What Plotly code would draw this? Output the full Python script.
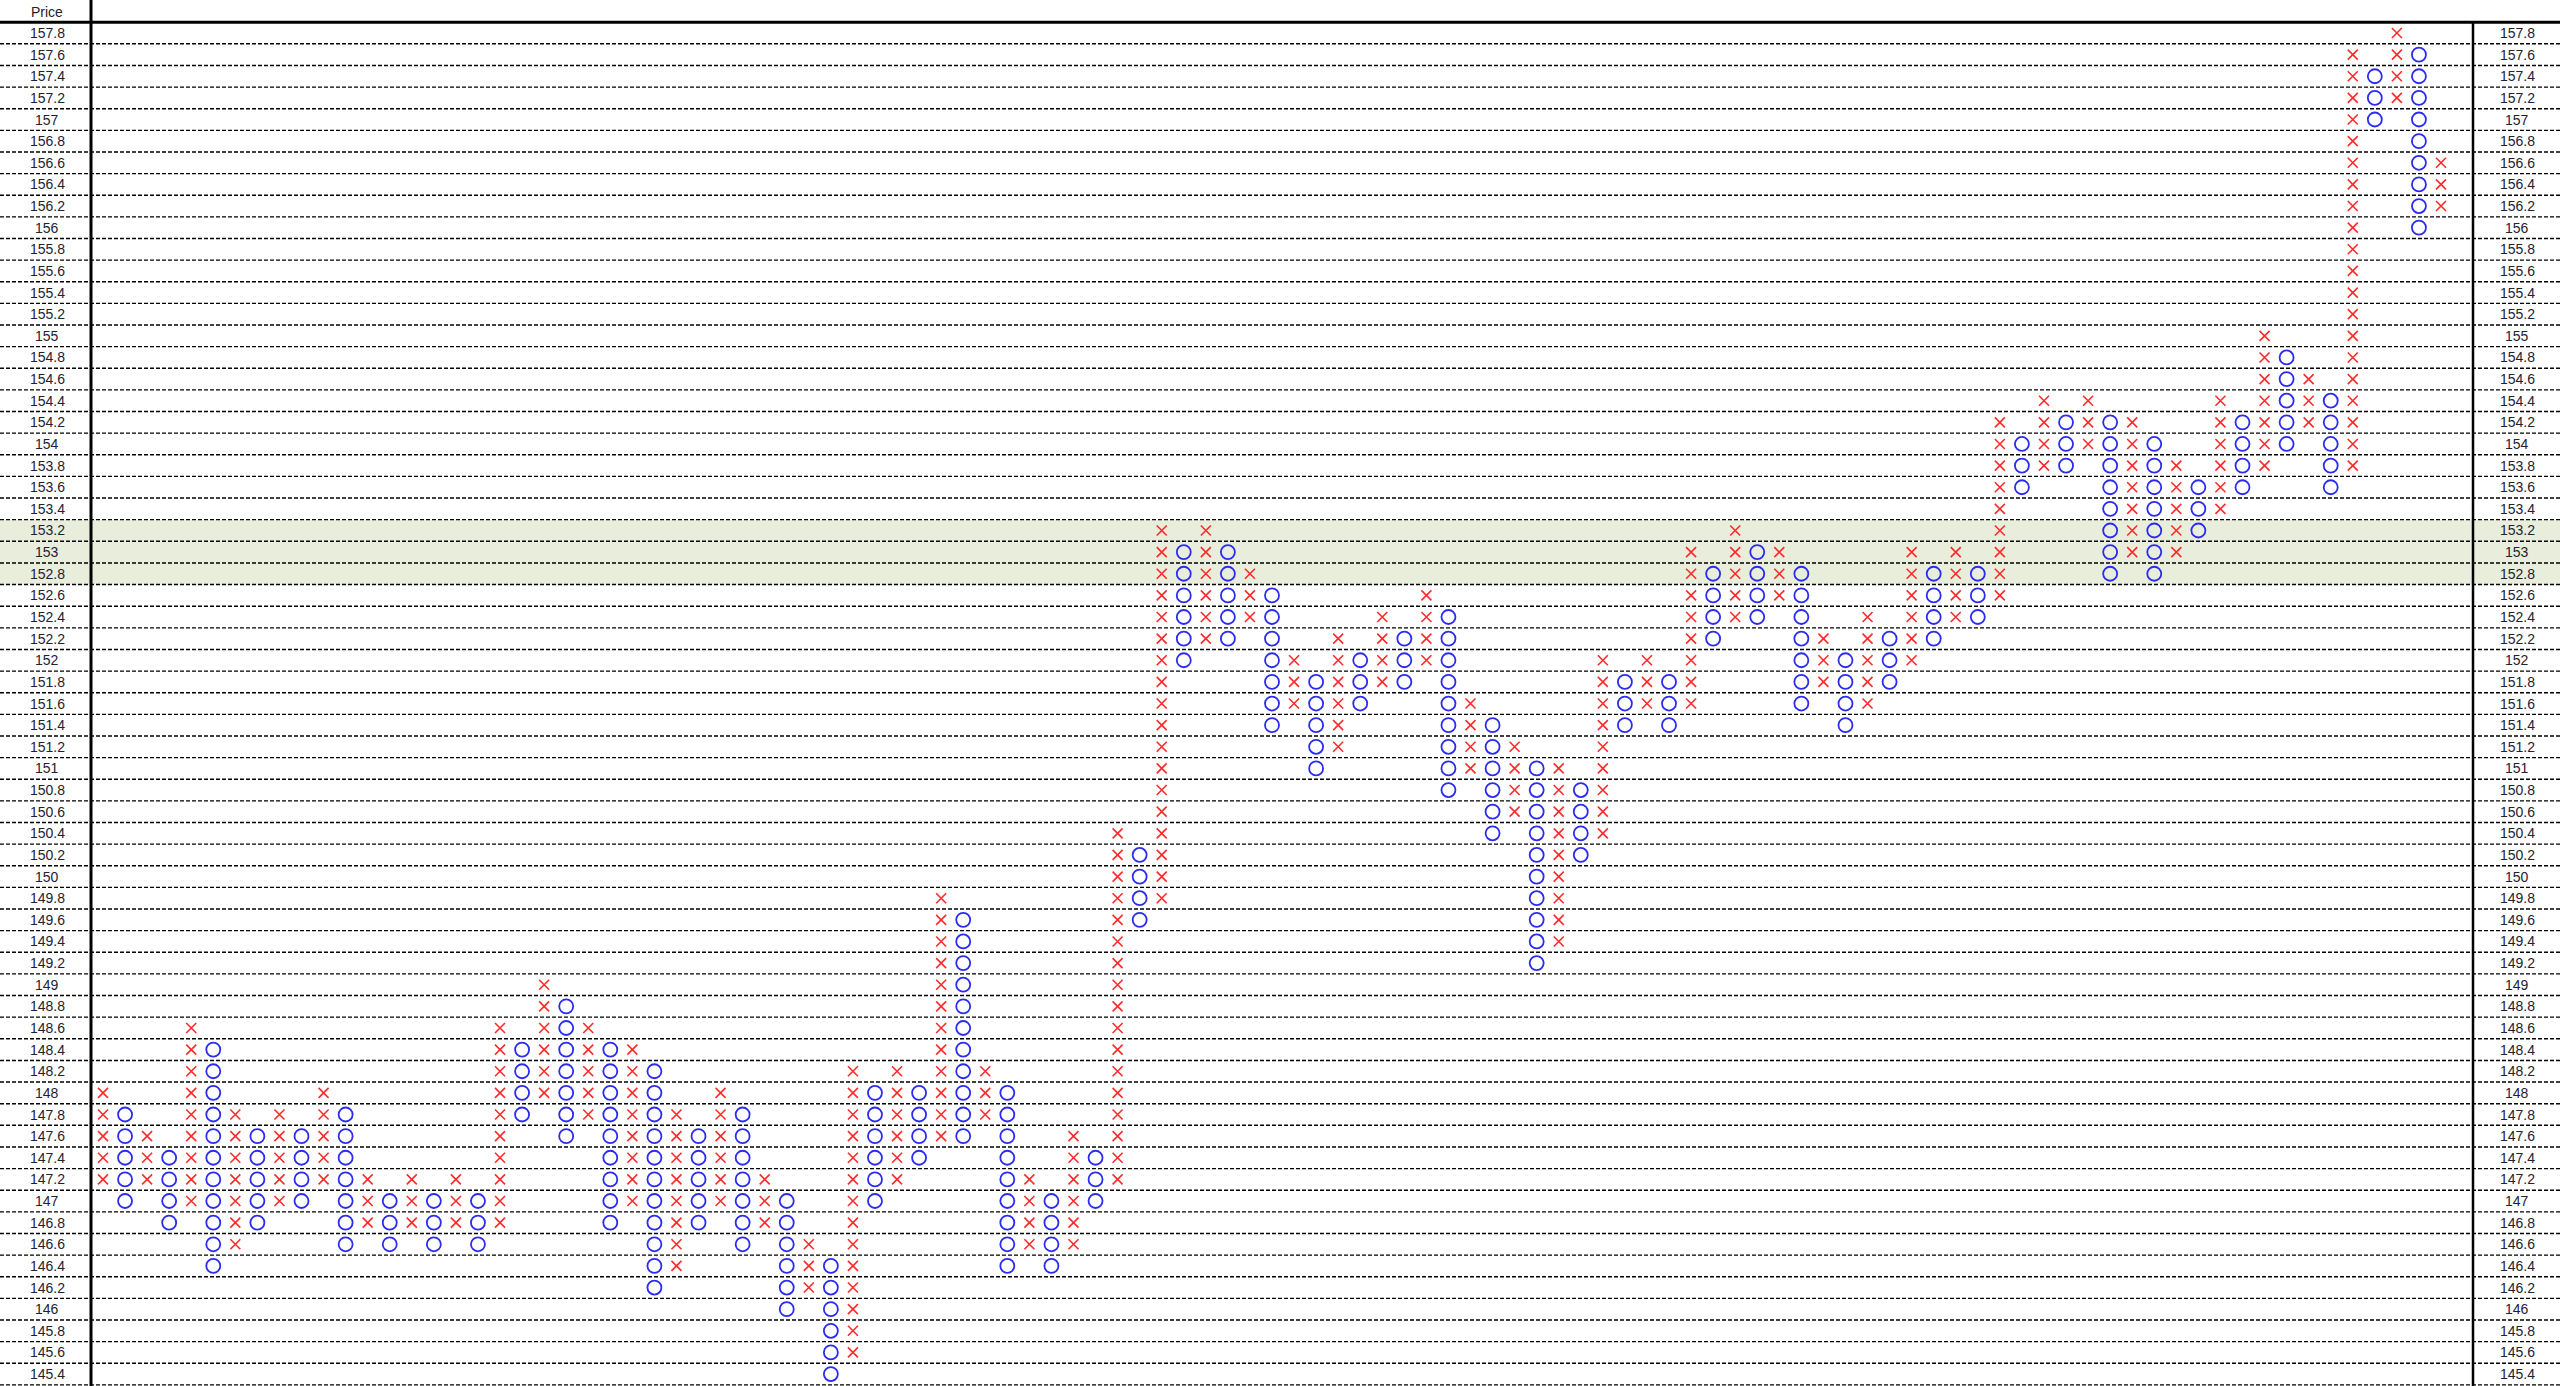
import plotly.graph_objects as go

# ---------------- data ----------------
box_size = 0.2
col_types = list("XO" * 53 + "X")
col_low = [147.2, 147.0, 147.2, 146.8, 147.0, 146.4, 146.6, 146.8, 147.0, 147.0,
           147.2, 146.6, 146.8, 146.6, 146.8, 146.6, 146.8, 146.6, 146.8, 147.8,
           148.0, 147.6, 147.8, 146.8, 147.0, 146.2, 146.4, 146.8, 147.0, 146.6,
           146.8, 146.0, 146.2, 145.4, 145.6, 147.0, 147.2, 147.4, 147.6, 147.6,
           147.8, 146.4, 146.6, 146.4, 146.6, 147.0, 147.2, 149.6, 149.8, 152.0,
           152.2, 152.2, 152.4, 151.4, 151.6, 151.0, 151.2, 151.6, 151.8, 151.8,
           152.0, 150.8, 151.0, 150.4, 150.6, 149.2, 149.4, 150.2, 150.4, 151.4,
           151.6, 151.4, 151.6, 152.2, 152.4, 152.4, 152.6, 151.6, 151.8, 151.4,
           151.6, 151.8, 152.0, 152.2, 152.4, 152.4, 152.6, 153.6, 153.8, 153.8,
           154.0, 152.8, 153.0, 152.8, 153.0, 153.2, 153.4, 153.6, 153.8, 154.0,
           154.2, 153.6, 153.8, 157.0, 157.2, 156.0, 156.2]
col_high = [148.0, 147.8, 147.6, 147.4, 148.6, 148.4, 147.8, 147.6, 147.8, 147.6,
            148.0, 147.8, 147.2, 147.0, 147.2, 147.0, 147.2, 147.0, 148.6, 148.4,
            149.0, 148.8, 148.6, 148.4, 148.4, 148.2, 147.8, 147.6, 148.0, 147.8,
            147.2, 147.0, 146.6, 146.4, 148.2, 148.0, 148.2, 148.0, 149.8, 149.6,
            148.2, 148.0, 147.2, 147.0, 147.6, 147.4, 150.4, 150.2, 153.2, 153.0,
            153.2, 153.0, 152.8, 152.6, 152.0, 151.8, 152.2, 152.0, 152.4, 152.2,
            152.6, 152.4, 151.6, 151.4, 151.2, 151.0, 151.0, 150.8, 152.0, 151.8,
            152.0, 151.8, 153.0, 152.8, 153.2, 153.0, 153.0, 152.8, 152.2, 152.0,
            152.4, 152.2, 153.0, 152.8, 153.0, 152.8, 154.2, 154.0, 154.4, 154.2,
            154.4, 154.2, 154.2, 154.0, 153.8, 153.6, 154.4, 154.2, 155.0, 154.8,
            154.6, 154.4, 157.6, 157.4, 157.8, 157.6, 156.6]
price_labels = ["157.8", "157.6", "157.4", "157.2", "157", "156.8", "156.6", "156.4",
                "156.2", "156", "155.8", "155.6", "155.4", "155.2", "155", "154.8",
                "154.6", "154.4", "154.2", "154", "153.8", "153.6", "153.4", "153.2",
                "153", "152.8", "152.6", "152.4", "152.2", "152", "151.8", "151.6",
                "151.4", "151.2", "151", "150.8", "150.6", "150.4", "150.2", "150",
                "149.8", "149.6", "149.4", "149.2", "149", "148.8", "148.6", "148.4",
                "148.2", "148", "147.8", "147.6", "147.4", "147.2", "147", "146.8",
                "146.6", "146.4", "146.2", "146", "145.8", "145.6", "145.4"]
highlight_prices = [153.2, 153.0, 152.8]
header_text = "Price"

# ---------------- build boxes ----------------
xs_x, ys_x, xs_o, ys_o = [], [], [], []
for i, (t, lo, hi) in enumerate(zip(col_types, col_low, col_high)):
    n = int(round((hi - lo) / box_size)) + 1
    for k in range(n):
        p = round(lo + k * box_size, 1)
        if t == "X":
            xs_x.append(i); ys_x.append(p)
        else:
            xs_o.append(i); ys_o.append(p)

W, H = 2560, 1386
col_px0, col_step = 103.0, (2441.0 - 103.0) / 106
x0 = -col_px0 / col_step
x1 = x0 + W / col_step
row_px0, row_step = 33.0, 21.63
top_price = float(price_labels[0])
y1 = top_price + row_px0 / row_step * box_size
y0 = top_price - (H - row_px0) / row_step * box_size

fig = go.Figure()
fig.add_trace(go.Scatter(
    x=xs_x, y=ys_x, mode="markers", name="X",
    marker=dict(symbol="x-thin", size=10, line=dict(color="#ff2a2a", width=1.6)),
    hoverinfo="skip"))
fig.add_trace(go.Scatter(
    x=xs_o, y=ys_o, mode="markers", name="O",
    marker=dict(symbol="circle-open", size=14, color="#2b2bf2", line=dict(color="#2b2bf2", width=1.8)),
    hoverinfo="skip"))

shapes = []
# highlight band
hp_top = max(highlight_prices) + box_size / 2
hp_bot = min(highlight_prices) - box_size / 2
shapes.append(dict(type="rect", xref="paper", yref="y", x0=0, x1=1, y0=hp_bot, y1=hp_top,
                   fillcolor="#e9eddb", line=dict(width=0), layer="below"))
# dashed row separators
for lab in price_labels:
    p = float(lab)
    yb = p - box_size / 2
    shapes.append(dict(type="line", xref="paper", yref="y", x0=0, x1=1, y0=yb, y1=yb,
                       line=dict(color="#000000", width=1.4, dash="4px,2px"), layer="below"))
# thick frame lines
y_top_line = top_price + box_size / 2
shapes.append(dict(type="line", xref="paper", yref="y", x0=0, x1=1, y0=y_top_line, y1=y_top_line,
                   line=dict(color="#000000", width=3)))
shapes.append(dict(type="line", xref="paper", yref="paper", x0=91 / W, x1=91 / W, y0=0, y1=1,
                   line=dict(color="#000000", width=3)))
shapes.append(dict(type="line", xref="paper", yref="y", x0=2473 / W, x1=2473 / W, y0=y0, y1=y_top_line,
                   line=dict(color="#000000", width=2.5)))

annotations = []
for lab in price_labels:
    p = float(lab)
    for xp in (47 / W, 2517 / W):
        annotations.append(dict(x=xp, y=p, xref="paper", yref="y", text=lab, showarrow=False,
                                xanchor="center", yanchor="middle",
                                font=dict(family="Liberation Sans, Arial", size=14, color="#1e2233")))
annotations.append(dict(x=47 / W, y=top_price + 0.2 - 0.003, xref="paper", yref="y", text=header_text,
                        showarrow=False, xanchor="center", yanchor="middle",
                        font=dict(family="Liberation Sans, Arial", size=14, color="#1e2233")))

fig.update_layout(
    width=W, height=H, margin=dict(l=0, r=0, t=0, b=0),
    paper_bgcolor="white", plot_bgcolor="white", showlegend=False,
    xaxis=dict(range=[x0, x1], visible=False, fixedrange=True),
    yaxis=dict(range=[y0, y1], visible=False, fixedrange=True),
    shapes=shapes, annotations=annotations,
)

fig.write_html("out.html", config={"displayModeBar": False},
               post_script="document.body.style.margin='0';document.body.style.overflow='hidden';")
